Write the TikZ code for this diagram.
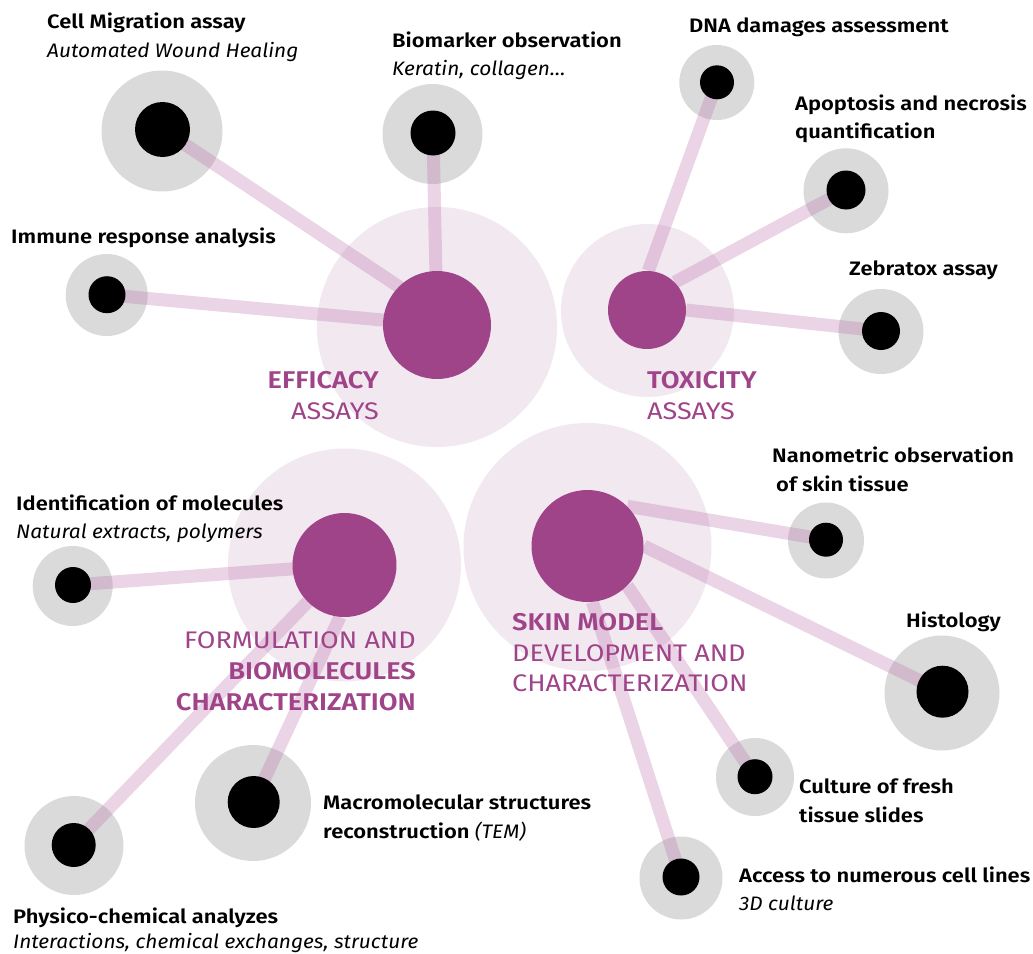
\documentclass[tikz,border=0pt]{standalone}
\usepackage{fontspec}
\setmainfont{Fira Sans}[BoldFont={Fira Sans SemiBold},UprightFeatures={FakeStretch=1.125},BoldFeatures={FakeStretch=1.125},ItalicFeatures={FakeStretch=1.07}]
\pgfdeclarelayer{bg}
\pgfdeclarelayer{lines}
\pgfsetlayers{bg,lines,main}
\definecolor{hubc}{HTML}{A0448A}
\definecolor{hubbgc}{HTML}{F2E8F0}
\definecolor{greyc}{HTML}{DADADA}
\definecolor{linec}{HTML}{BE78AF}
\begin{document}
\begin{tikzpicture}[x=1pt,y=-1pt,
  hubbg/.style={circle,fill=hubbgc,inner sep=0pt,minimum size=#1},
  hub/.style={circle,fill=hubc,inner sep=0pt,minimum size=#1},
  leafbg/.style={circle,fill=greyc,inner sep=0pt,minimum size=#1},
  dot/.style={circle,fill=black,inner sep=0pt,minimum size=#1},
  link/.style={draw=linec,opacity=0.32,line width=13pt},
  lbl/.style={anchor=base west,inner sep=0pt,font=\fontsize{19.5}{24}\selectfont\bfseries,text=black},
  sub/.style={anchor=base west,inner sep=0pt,font=\fontsize{19.5}{24}\selectfont\itshape,text=black},
  hlb/.style={inner sep=0pt,font=\fontsize{24.2}{28}\selectfont\bfseries,text=hubc},
  hlr/.style={inner sep=0pt,font=\fontsize{24}{28}\selectfont,text=hubc}]
\useasboundingbox (0,0) rectangle (1033,953);
\begin{pgfonlayer}{bg}
  \node[hubbg=240pt] (effbg) at (437,327) {};
  \node[hubbg=173pt] (toxbg) at (647.5,310.5) {};
  \node[hubbg=233pt] (formbg) at (344.5,565) {};
  \node[hubbg=248pt] (skinbg) at (587.5,547) {};
  \node[leafbg=121pt] (cmbg) at (162,131) {};
  \node[leafbg=100pt] (biobg) at (432.5,134) {};
  \node[leafbg=82pt] (immbg) at (106.7,295) {};
  \node[leafbg=75pt] (dnabg) at (716.8,82.5) {};
  \node[leafbg=85pt] (apobg) at (846,190.8) {};
  \node[leafbg=85pt] (zebbg) at (881,331.5) {};
  \node[leafbg=76pt] (nanobg) at (826,540.5) {};
  \node[leafbg=115pt] (histbg) at (942,693) {};
  \node[leafbg=78pt] (cultbg) at (755,777) {};
  \node[leafbg=83pt] (accbg) at (681,878) {};
  \node[leafbg=116pt] (macbg) at (253,803) {};
  \node[leafbg=99pt] (phybg) at (74,845.5) {};
  \node[leafbg=80pt] (idbg) at (72.7,586) {};
\end{pgfonlayer}
% hubs
\node[hub=108pt] (eff) at (437,325) {};
\node[hub=78pt] (tox) at (647,310) {};
\node[hub=104pt] (form) at (344.5,565) {};
\node[hub=112pt] (skin) at (587.5,546) {};
% leaf dots
\node[dot=55pt] (cm) at (162.5,129.5) {};
\node[dot=45pt] (bio) at (433,133) {};
\node[dot=37pt] (imm) at (107,294.7) {};
\node[dot=34pt] (dna) at (717,82.3) {};
\node[dot=39pt] (apo) at (846,190) {};
\node[dot=38pt] (zeb) at (881,331) {};
\node[dot=34pt] (nano) at (826,539.7) {};
\node[dot=52pt] (hist) at (942.5,691.7) {};
\node[dot=35pt] (cult) at (755,776.7) {};
\node[dot=37pt] (acc) at (681,877) {};
\node[dot=52pt] (mac) at (253.7,802) {};
\node[dot=44pt] (phy) at (73.7,845) {};
\node[dot=36pt] (id) at (73,585) {};
% connectors
\begin{pgfonlayer}{lines}
  \draw[link] (cm.center) -- ([yshift=13pt]eff.center);
  \draw[link] (bio.center) -- (eff.center);
  \draw[link] (imm.center) -- (eff.center);
  \draw[link] (dna.center) -- (tox.88);
  \draw[link] (apo.center) -- (tox.45);
  \draw[link] (zeb.center) -- (tox.east);
  \draw[link] (id.center) -- (form.center);
  \draw[link] (phy.center) -- (form.225);
  \draw[link] (mac.center) -- (form.265);
  \draw[link] (nano.center) -- (skin.45);
  \draw[link] (hist.center) -- (skin.east);
  \draw[link] (cult.center) -- (skin.-45);
  \draw[link] (acc.center) -- (skin.-85);
\end{pgfonlayer}
% leaf labels
\node[lbl] (tcm) at (47,28) {Cell Migration assay};
\node[sub] (tcms) at (47,57) {Automated Wound Healing};
\node[lbl] (tbio) at (392,47) {Biomarker observation};
\node[sub] (tbios) at (392,75) {Keratin, collagen…};
\node[lbl] (timm) at (11,243) {Immune response analysis};
\node[lbl] (tdna) at (689,32) {DNA damages assessment};
\node[lbl] (tapo) at (795,110) {Apoptosis and necrosis};
\node[lbl] (tapo2) at (795,138) {quantification};
\node[lbl] (tzeb) at (849,275) {Zebratox assay};
\node[lbl] (tnano) at (772,462) {Nanometric observation};
\node[lbl] (tnano2) at (776,491) {of skin tissue};
\node[lbl] (thist) at (906,627) {Histology};
\node[lbl] (tcult) at (799,793) {Culture of fresh};
\node[lbl] (tcult2) at (799,822) {tissue slides};
\node[lbl] (tacc) at (739,882) {Access to numerous cell lines};
\node[sub] (taccs) at (739,910) {3D culture};
\node[lbl] (tmac) at (323,809) {Macromolecular structures};
\node[lbl] (tmac2) at (323,838) {reconstruction \textit{\mdseries(TEM)}};
\node[lbl] (tphy) at (13,923) {Physico-chemical analyzes};
\node[sub] (tphys) at (13,948) {Interactions, chemical exchanges, structure};
\node[lbl] (tid) at (16,510) {Identification of molecules};
\node[sub] (tids) at (16,538) {Natural extracts, polymers};
% hub labels
\node[hlb,anchor=base east] (heff1) at (379,388) {EFFICACY};
\node[hlr,anchor=base east] (heff2) at (379,419) {ASSAYS};
\node[hlb,anchor=base west] (htox1) at (647,388) {TOXICITY};
\node[hlr,anchor=base west] (htox2) at (647,419) {ASSAYS};
\node[hlr,anchor=base east] (hform1) at (416,648) {FORMULATION AND};
\node[hlb,anchor=base east] (hform2) at (416,679) {BIOMOLECULES};
\node[hlb,anchor=base east] (hform3) at (416,710) {CHARACTERIZATION};
\node[hlb,anchor=base west] (hskin1) at (512,630) {SKIN MODEL};
\node[hlr,anchor=base west] (hskin2) at (512,661) {DEVELOPMENT AND};
\node[hlr,anchor=base west] (hskin3) at (512,691) {CHARACTERIZATION};
\end{tikzpicture}
\end{document}
